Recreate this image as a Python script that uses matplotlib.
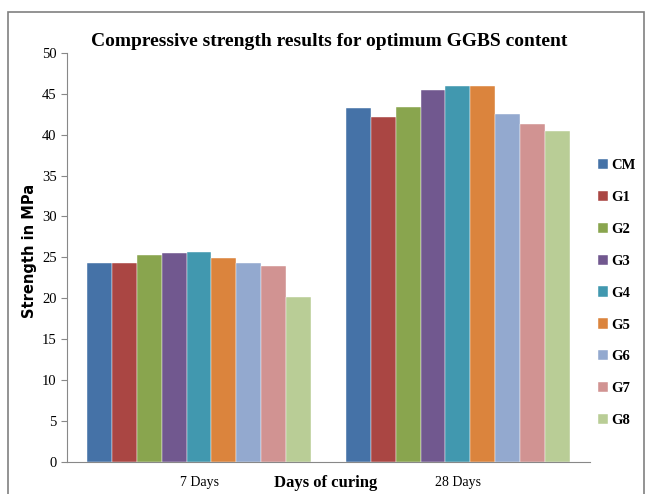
import numpy as np
import matplotlib
matplotlib.use("Agg")
import matplotlib.pyplot as plt
from matplotlib.patches import Rectangle

# data
periods = ["7 Days", "28 Days"]
mixes = ["CM", "G1", "G2", "G3", "G4", "G5", "G6", "G7", "G8"]
strength_7 = [24.3, 24.3, 25.3, 25.5, 25.7, 24.9, 24.3, 23.9, 20.1]
strength_28 = [43.2, 42.1, 43.4, 45.4, 45.9, 45.9, 42.5, 41.3, 40.5]
colors = ["#4572A7", "#AA4643", "#89A54E", "#71588F", "#4198AF",
          "#DB843D", "#93A9CF", "#D19392", "#B9CD96"]

fig = plt.figure(figsize=(6.51, 4.94), dpi=100)
ax = fig.add_axes([0.103, 0.065, 0.803, 0.828])

x = np.arange(len(periods))
w = 0.096
for i, name in enumerate(mixes):
    vals = [strength_7[i], strength_28[i]]
    ax.bar(x + (i - 4) * w, vals, width=w, color=colors[i], label=name,
           edgecolor="white", linewidth=0.3)

ax.set_xlim(-0.51, 1.51)
ax.set_ylim(0, 50)
ax.set_yticks(np.arange(0, 51, 5))
ax.set_xticks(x)
ax.set_xticklabels(periods, family="Liberation Serif", fontsize=10)
ax.tick_params(axis="x", length=0, pad=10)
ax.tick_params(axis="y", length=4, color="#888888", labelsize=10.5)
for lab in ax.get_yticklabels():
    lab.set_family("Liberation Serif")

for s in ["top", "right"]:
    ax.spines[s].set_visible(False)
for s in ["left", "bottom"]:
    ax.spines[s].set_color("#888888")

fig.text(0.045, 0.492, "Strength in MPa", family="DejaVu Sans", fontweight="bold",
         fontsize=10.5, rotation=90, ha="center", va="center")
fig.text(0.5, 0.022, "Days of curing", family="Liberation Serif",
         fontweight="bold", fontsize=12, ha="center", va="center")
fig.text(0.505, 0.915, "Compressive strength results for optimum GGBS content",
         family="Liberation Serif", fontweight="bold", fontsize=14,
         ha="center", va="center")

fig.legend(loc="upper left", bbox_to_anchor=(0.91, 0.69), frameon=False,
           prop={"family": "Liberation Serif", "weight": "bold", "size": 10.5},
           handlelength=0.7, handleheight=0.7, handletextpad=0.2,
           labelspacing=1.28, borderaxespad=0)

fig.patches.append(Rectangle((0.012, -0.01), 0.978, 0.986, transform=fig.transFigure,
                             fill=False, edgecolor="#808080", linewidth=1.2))

fig.savefig("out.png", dpi=100)
